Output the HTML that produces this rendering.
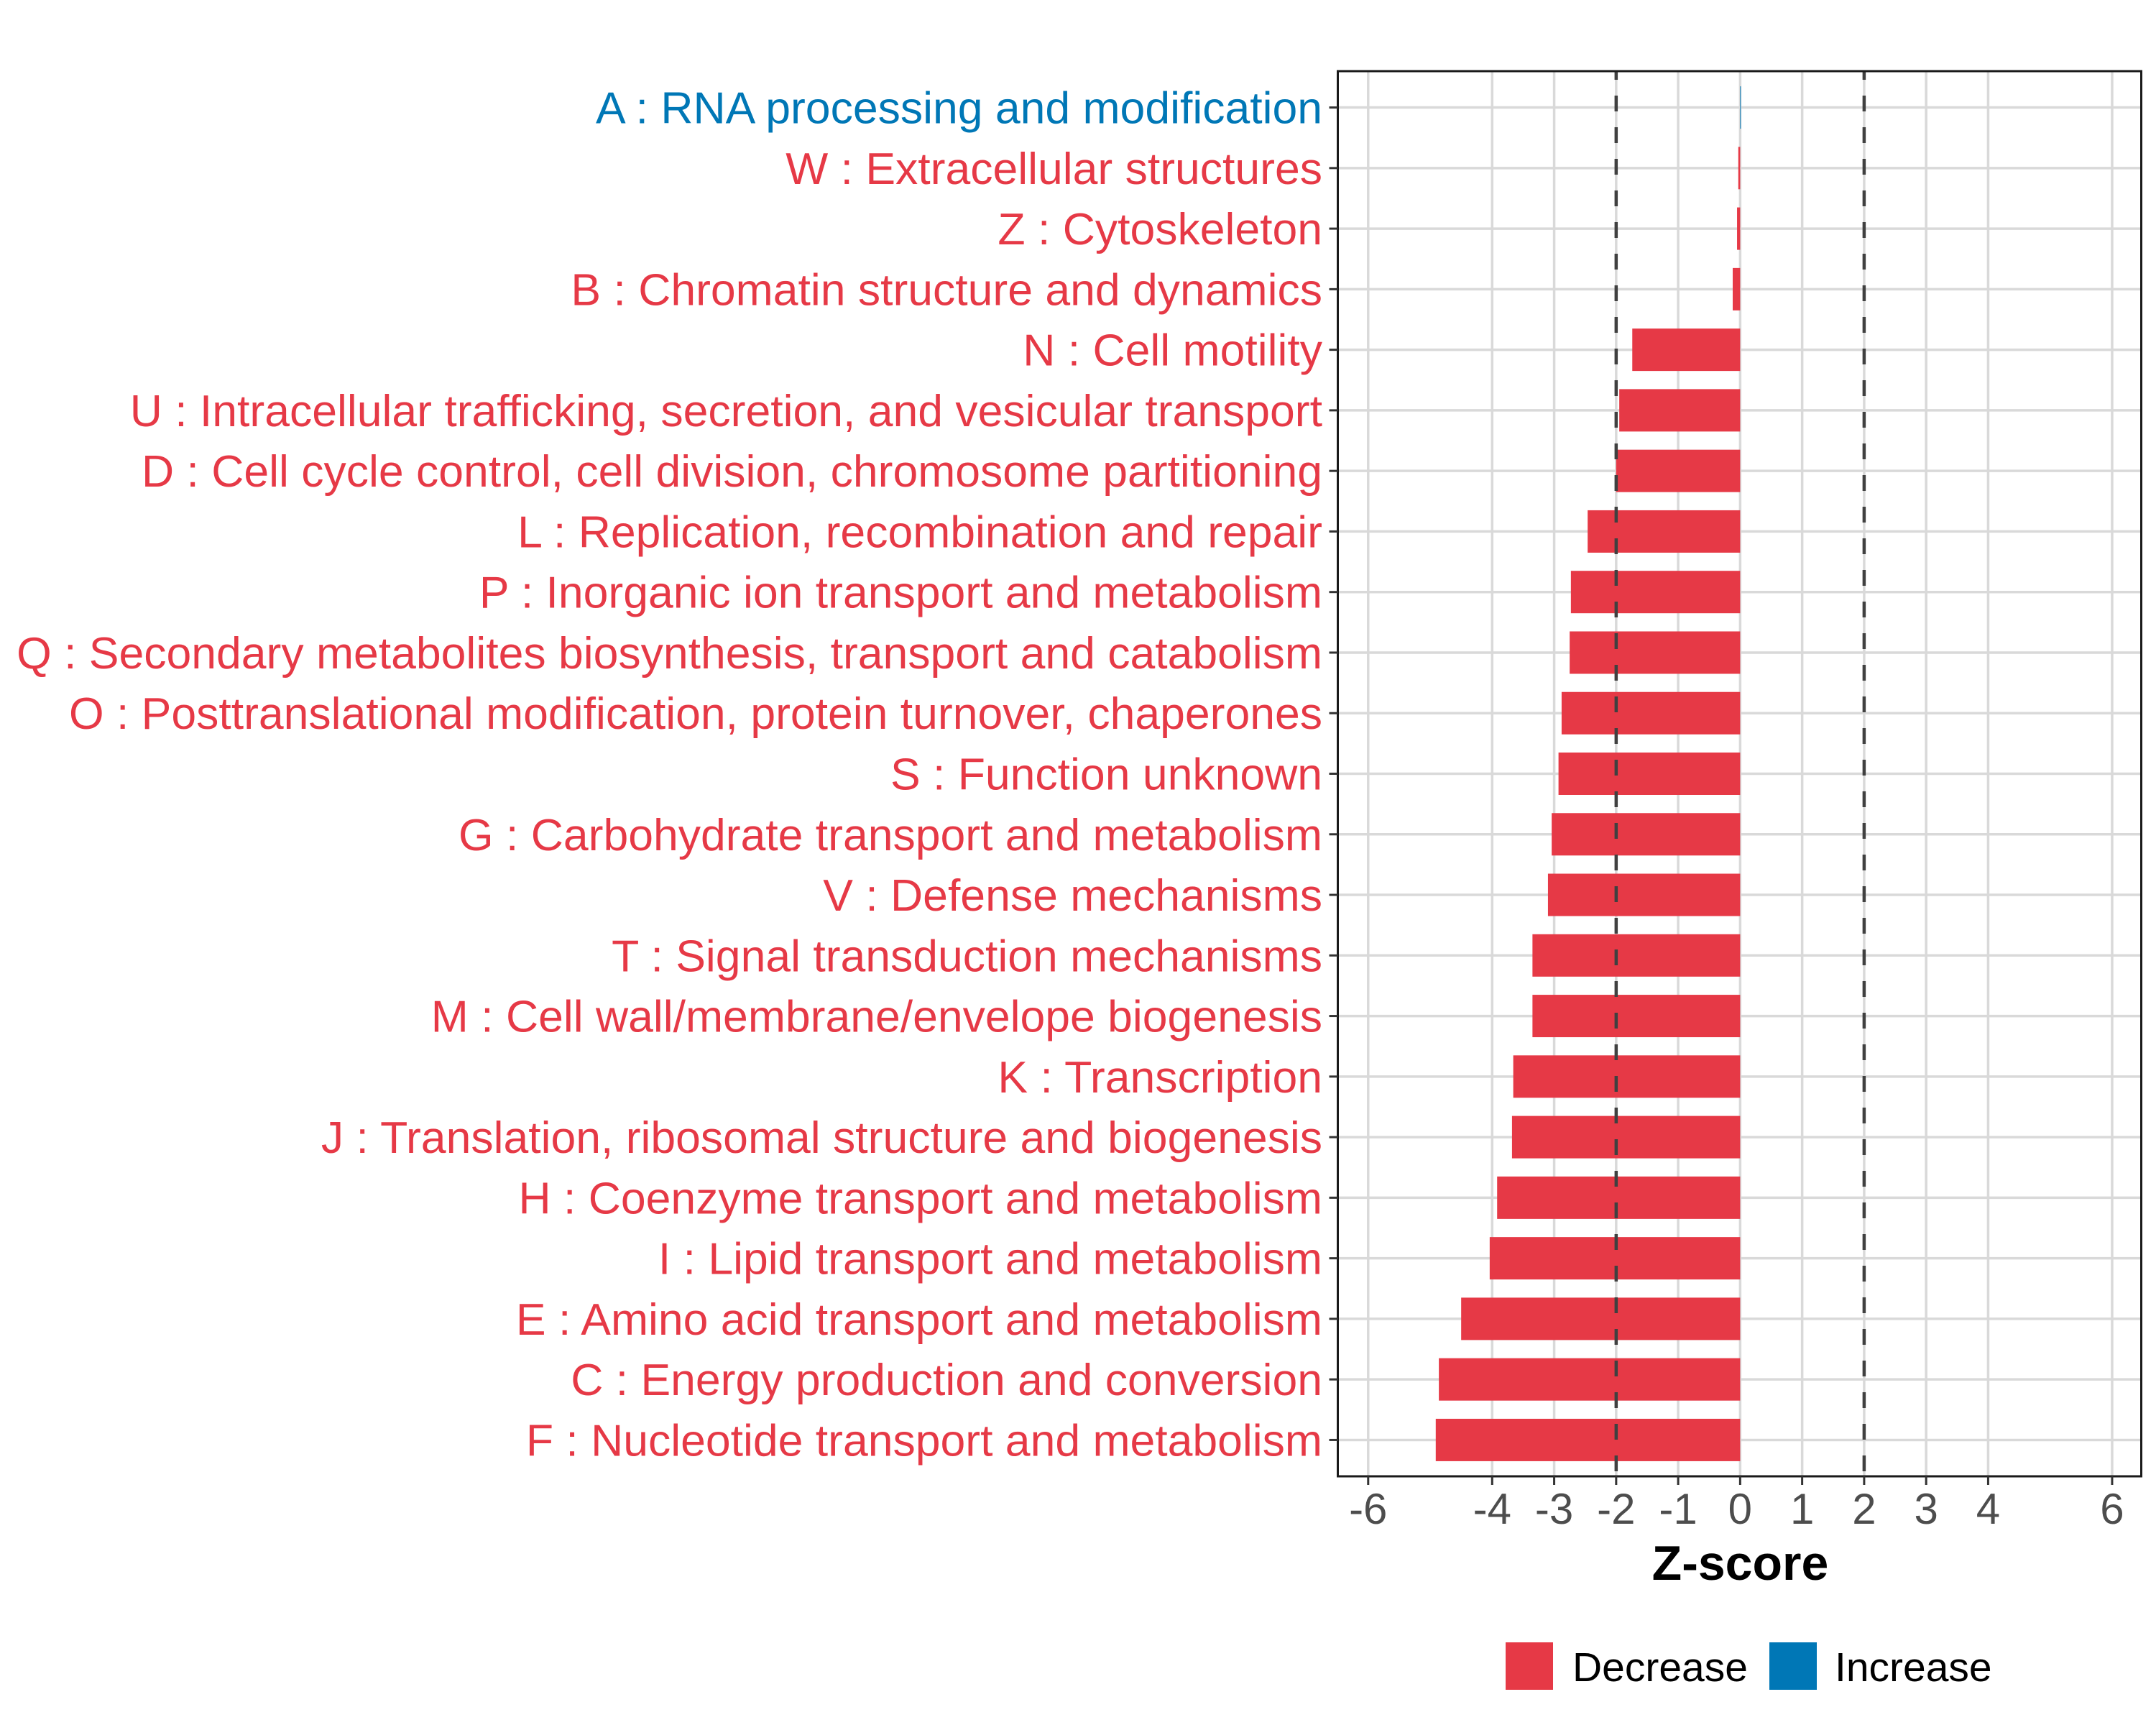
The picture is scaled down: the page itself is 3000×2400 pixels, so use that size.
<!DOCTYPE html>
<html><head><meta charset="utf-8">
<style>
html,body{margin:0;padding:0;background:#fff;}
svg{display:block;font-family:"Liberation Sans",Arial,sans-serif;}
</style></head>
<body>
<svg id="chart" width="3000" height="2400" viewBox="0 0 3000 2400" xmlns="http://www.w3.org/2000/svg">
<g id="grid"></g>
<g id="bars"></g>
<g id="refs"></g>
<rect x="1861.5" y="99" width="1118" height="1955" fill="none" stroke="#1a1a1a" stroke-width="3"/>
<g id="yaxis"></g>
<g id="xaxis"></g>
<text x="2421.5" y="2198" font-size="68" font-weight="bold" text-anchor="middle" fill="#000">Z-score</text>
<g>
<rect x="2095" y="2285" width="66" height="66" fill="#E63946"/>
<text x="2188" y="2339" font-size="57" fill="#000">Decrease</text>
<rect x="2462" y="2285" width="66" height="66" fill="#0077B6"/>
<text x="2553" y="2339" font-size="57" fill="#000">Increase</text>
</g>
</svg>
<script>
const categories = ["A : RNA processing and modification","W : Extracellular structures","Z : Cytoskeleton","B : Chromatin structure and dynamics","N : Cell motility","U : Intracellular trafficking, secretion, and vesicular transport","D : Cell cycle control, cell division, chromosome partitioning","L : Replication, recombination and repair","P : Inorganic ion transport and metabolism","Q : Secondary metabolites biosynthesis, transport and catabolism","O : Posttranslational modification, protein turnover, chaperones","S : Function unknown","G : Carbohydrate transport and metabolism","V : Defense mechanisms","T : Signal transduction mechanisms","M : Cell wall/membrane/envelope biogenesis","K : Transcription","J : Translation, ribosomal structure and biogenesis","H : Coenzyme transport and metabolism","I : Lipid transport and metabolism","E : Amino acid transport and metabolism","C : Energy production and conversion","F : Nucleotide transport and metabolism"];
const zscores = [0.01,-0.03,-0.05,-0.12,-1.74,-1.95,-2.0,-2.46,-2.73,-2.75,-2.88,-2.93,-3.04,-3.1,-3.35,-3.35,-3.66,-3.68,-3.92,-4.04,-4.5,-4.86,-4.91];
const xTicks = [-6,-4,-3,-2,-1,0,1,2,3,4,6];
const xTickLabels = ["-6","-4","-3","-2","-1","0","1","2","3","4","6"];
const refLines = [-2,2];

const NS="http://www.w3.org/2000/svg";
const px0=1861.5, px1=2979.5, xmin=-6.49, xmax=6.47;
const py0=99, py1=2054;
function xs(v){return px0+(v-xmin)/(xmax-xmin)*(px1-px0);}
const band=(py1-py0)/(categories.length+0.2);
function ys(i){return py0+band*0.6+i*band;}
function mk(tag,attrs,parent){const e=document.createElementNS(NS,tag);for(const k in attrs)e.setAttribute(k,attrs[k]);parent.appendChild(e);return e;}
const grid=document.getElementById('grid'),bars=document.getElementById('bars'),refs=document.getElementById('refs'),yax=document.getElementById('yaxis'),xax=document.getElementById('xaxis');
xTicks.forEach((t,i)=>{
 const l=mk('line',{x1:xs(t),x2:xs(t),y1:py0,y2:py1,stroke:'#d9d9d9','stroke-width':3.5},grid);
 
 
 const tk=mk('line',{x1:xs(t),x2:xs(t),y1:py1,y2:py1+12,stroke:'#333','stroke-width':3},xax);
 
 
 const tx=mk('text',{x:xs(t),y:2120,'font-size':60,'text-anchor':'middle',fill:'#4d4d4d'},xax);
 tx.textContent=xTickLabels[i];
 
 
});
categories.forEach((c,i)=>{
 const y=ys(i);
 const g=mk('line',{x1:px0,x2:px1,y1:y,y2:y,stroke:'#d9d9d9','stroke-width':3.5},grid);
 
 
 const v=zscores[i];
 const col=v>0?'#0077B6':'#E63946';
 const x0=xs(Math.min(0,v)), w=Math.max(Math.abs(xs(v)-xs(0)),1);
 const r=mk('rect',{x:x0,y:y-band*0.35,width:w,height:band*0.7,fill:col},bars);
 
 
 const tk=mk('line',{x1:px0-12,x2:px0,y1:y,y2:y,stroke:'#333','stroke-width':3},yax);
 
 
 const tx=mk('text',{x:1840,y:y+22,'font-size':62.5,'text-anchor':'end',fill:col},yax);
 tx.textContent=c;
 
 
});
refLines.forEach(r=>{
 const l=mk('line',{x1:xs(r),x2:xs(r),y1:py0,y2:py1,stroke:'#404040','stroke-width':4.5,'stroke-dasharray':'22 22','stroke-dashoffset':'10'},refs);
 
 
});
</script>
</body></html>
